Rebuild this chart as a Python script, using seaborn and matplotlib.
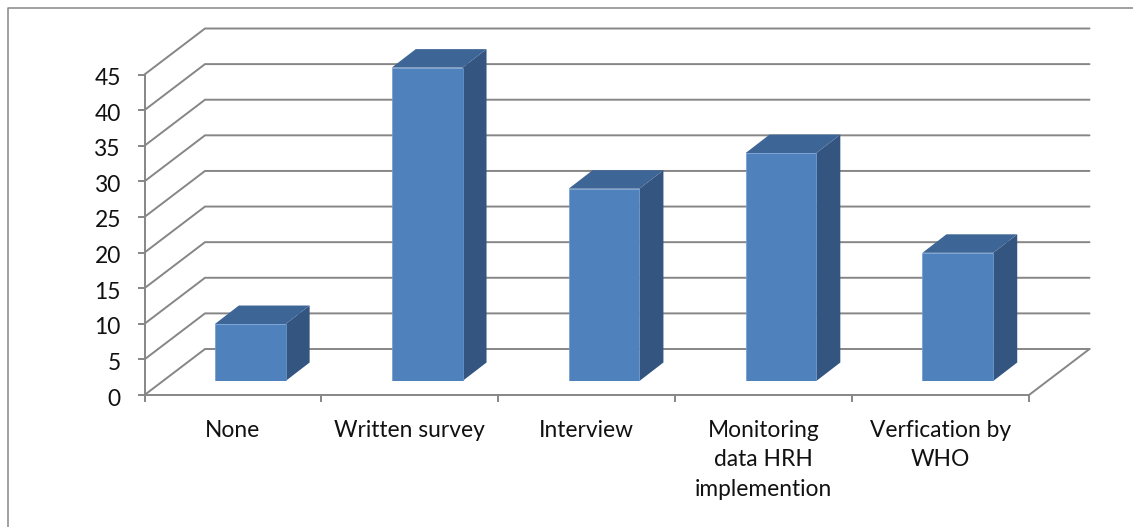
import matplotlib

matplotlib.use("Agg")

import matplotlib.pyplot as plt
import pandas as pd
import seaborn as sns
from matplotlib.lines import Line2D
from matplotlib.transforms import ScaledTranslation

categories = ["None", "Written survey", "Interview", "Monitoring\ndata HRH\nimplemention", "Verfication by\nWHO"]
values = [8, 44, 27, 32, 18]
y_ticks = [0, 5, 10, 15, 20, 25, 30, 35, 40, 45]

W, H = 1133, 527
GRID = "#868686"
FRONT = "#4F81BD"
SIDE = "#345580"
TOP = "#3D6595"


def box(left, right, top, bottom):
    # pixel box (from top left of the image) -> figure fractions
    return [left / W, 1 - bottom / H, (right - left) / W, (bottom - top) / H]


def main() -> None:
    sns.set_theme(style="white")
    plt.rcParams["font.family"] = ["Lato", "DejaVu Sans"]

    fig = plt.figure(figsize=(W / 100, H / 100), dpi=100, facecolor="white")

    # front plane of the 3d box: axis lines, ticks, labels
    ax = fig.add_axes(box(144.5, 1029, 74.5, 395))
    ax.set_xlim(-0.5, 4.5)
    ax.set_ylim(0, 45)
    for side in ["top", "right"]:
        ax.spines[side].set_visible(False)
    for side in ["left", "bottom"]:
        ax.spines[side].set_color(GRID)
        ax.spines[side].set_linewidth(1.4)
    ax.set_yticks(y_ticks)
    ax.set_xticks(range(len(categories)))
    ax.set_xticklabels(categories, linespacing=1.5)
    ax.set_xticks([i - 0.5 for i in range(len(categories) + 1)], minor=True)
    ax.tick_params(axis="x", which="major", bottom=True, length=0, pad=18, labelsize=16.4, labelcolor="#111111")
    ax.tick_params(axis="x", which="minor", bottom=True, length=5, width=1.4, color=GRID)
    ax.tick_params(axis="y", left=True, length=5, width=1.4, color=GRID, pad=12, labelsize=16.4, labelcolor="#111111")
    nudge = ScaledTranslation(0, -2 / 100, fig.dpi_scale_trans)
    for label in ax.get_yticklabels():
        label.set_transform(label.get_transform() + nudge)

    # depth of the box in data units
    unit_x = (1029 - 144.5) / 5
    unit_y = (395 - 74.5) / 45
    wall_dx = 60.5 / unit_x
    wall_dy = 46 / unit_y
    for tick in y_ticks:
        ax.plot(
            [-0.5, -0.5 + wall_dx, 4.5 + wall_dx],
            [tick, tick + wall_dy, tick + wall_dy],
            color=GRID, lw=1.4, clip_on=False, solid_joinstyle="miter",
        )
    ax.plot([4.5, 4.5 + wall_dx], [0, wall_dy], color=GRID, lw=1.4, clip_on=False)

    # bars stand part of the way into the box, so they get their own shifted axes
    bar_ax = fig.add_axes(box(144.5 + 17.3, 1029 + 17.3, 74.5 - 14, 395 - 14))
    bar_ax.patch.set_alpha(0)
    frame = pd.DataFrame({"category": categories, "value": values})
    sns.barplot(
        data=frame, x="category", y="value", color=FRONT, saturation=1, width=0.4,
        edgecolor="#6E9BD0", linewidth=0.5, ax=bar_ax, zorder=3,
    )
    bar_ax.set_xlim(-0.5, 4.5)
    bar_ax.set_ylim(0, 45)
    bar_ax.set_axis_off()

    dx = 24 / unit_x
    dy = 18.5 / unit_y
    for bar in bar_ax.patches:
        x0, x1 = bar.get_x(), bar.get_x() + bar.get_width()
        y1 = bar.get_height()
        bar_ax.fill(
            [x1, x1 + dx, x1 + dx, x1], [0, dy, y1 + dy, y1],
            color=SIDE, lw=0, clip_on=False, zorder=2,
        )
        bar_ax.fill(
            [x0, x0 + dx, x1 + dx, x1], [y1, y1 + dy, y1 + dy, y1],
            color=TOP, lw=0, clip_on=False, zorder=2,
        )

    # chart frame, only the top and left edges are inside the picture
    fig.add_artist(Line2D([8 / W, 8 / W, 1], [0, 1 - 7.5 / H, 1 - 7.5 / H], color=GRID, lw=1.1))

    fig.savefig("out.png", dpi=100)
    plt.close(fig)


if __name__ == "__main__":
    main()
